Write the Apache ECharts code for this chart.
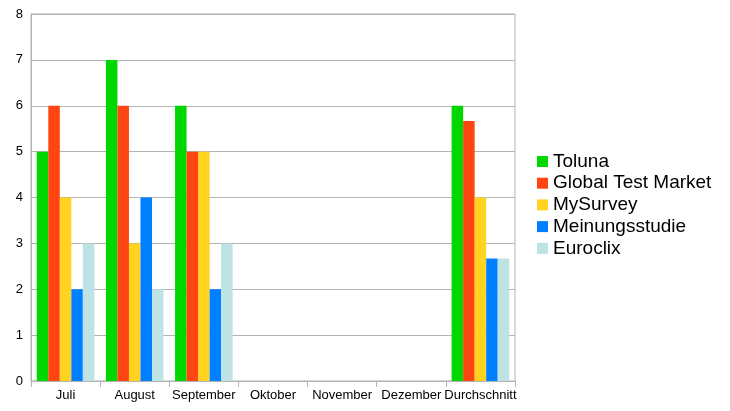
<!DOCTYPE html>
<html><head><meta charset="utf-8">
<script src="https://cdn.jsdelivr.net/npm/echarts@6/dist/echarts.min.js"></script>
<style>html,body{margin:0;padding:0;background:#fff}#c{width:730px;height:411px}</style>
</head><body><div id="c"></div>
<script>
const categories = ['Juli','August','September','Oktober','November','Dezember','Durchschnitt'];
const seriesNames = ['Toluna','Global Test Market','MySurvey','Meinungsstudie','Euroclix'];
const toluna = [5,7,6,null,null,null,6];
const globalTestMarket = [6,6,5,null,null,null,5.67];
const mySurvey = [4,3,5,null,null,null,4];
const meinungsstudie = [2,4,2,null,null,null,2.67];
const euroclix = [3,2,3,null,null,null,2.67];
const yTicks = [0,1,2,3,4,5,6,7,8];
const colors = ['#00d600','#ff4511','#ffd320','#0080ff','#bde3e4'];
const values = [toluna, globalTestMarket, mySurvey, meinungsstudie, euroclix];

const chart = echarts.init(document.getElementById('c'));
chart.setOption({
  animation:false,
  textStyle:{fontFamily:'Liberation Sans'},
  grid:{left:31,top:14,width:484,height:367,show:true,borderColor:'#b3b3b3',borderWidth:1},
  legend:{
    orient:'vertical', left:537, top:152, padding:0, itemWidth:11, itemHeight:11, itemGap:2.7,
    icon:'rect',
    textStyle:{fontSize:19,color:'#000',fontFamily:'Liberation Sans'},
    data:seriesNames
  },
  xAxis:{
    type:'category', data:categories,
    axisLine:{lineStyle:{color:'#b3b3b3'}},
    axisTick:{show:true,length:6,lineStyle:{color:'#b3b3b3'}},
    axisLabel:{color:'#000',fontSize:13,margin:8,interval:0}
  },
  yAxis:{
    type:'value', min:yTicks[0], max:yTicks[yTicks.length-1], interval:1,
    axisLine:{show:true,lineStyle:{color:'#b3b3b3'}},
    axisTick:{show:false},
    splitLine:{lineStyle:{color:'#b3b3b3'}},
    axisLabel:{color:'#000',fontSize:13,margin:8}
  },
  series: seriesNames.map((n,i)=>({
    name:n, type:'bar', data:values[i], barGap:'0%', barCategoryGap:'16.7%',
    itemStyle:{color:colors[i]}
  }))
});
</script></body></html>
